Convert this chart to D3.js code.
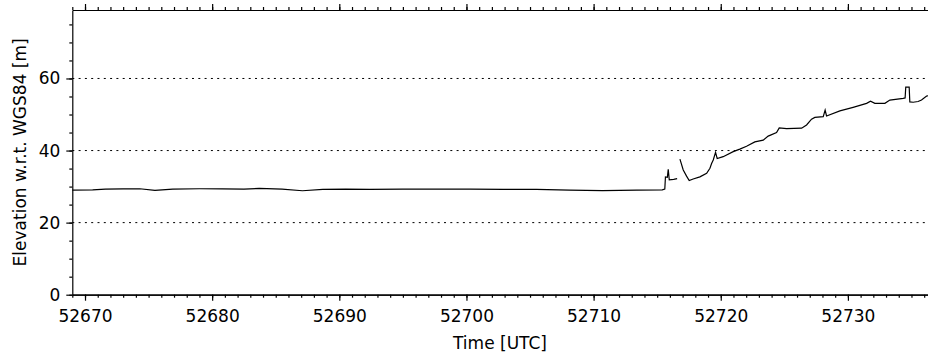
<!DOCTYPE html>
<meta charset="utf-8">
<script src="https://cdn.jsdelivr.net/npm/d3@7"></script>
<style>
    body { margin: 0; background: #fff; }
    text { font-family: "DejaVu Sans", sans-serif; fill: #000; }
    .axis text { font-size: 17px; }
    .axis path, .axis line { stroke: #000; stroke-width: 1.2px; }
    .grid { stroke: #000; stroke-width: 1px; stroke-dasharray: 2,4.3; }
    .line { fill: none; stroke: #000; stroke-width: 1.2px; }
</style>
<div id="viz"></div>
<script>
// time (MJD) and elevation (m), null marks the data gap
var times = [
    52669.0, 52670.6, 52671.6, 52673.0, 52674.3, 52675.5, 52676.9, 52679.0,
    52680.8, 52682.5, 52683.7, 52685.5, 52687.1, 52688.7, 52690.5, 52692.4,
    52695.0, 52697.7, 52700.3, 52702.9, 52705.5, 52708.1, 52710.7, 52713.4,
    52715.4, 52715.6, 52715.65, 52715.8, 52715.87, 52715.95, 52716.3, 52716.57,
    52716.68,
    52716.79, 52717.05, 52717.31, 52717.52, 52717.83, 52718.36, 52718.89, 52719.15,
    52719.28, 52719.41, 52719.59, 52719.72, 52720.19, 52720.98, 52721.5, 52722.03,
    52722.68, 52723.34, 52723.73, 52724.39, 52724.6, 52725.18, 52726.36, 52726.75,
    52727.14, 52727.4, 52728.06, 52728.21, 52728.32, 52729.37, 52730.41, 52731.47,
    52731.78, 52732.12, 52732.91, 52733.3, 52734.35, 52734.5, 52734.55, 52734.82,
    52734.87, 52735.13, 52735.52, 52735.79, 52736.19, 52736.4
];
var elevation = [
    29.0, 29.1, 29.3, 29.35, 29.4, 28.95, 29.3, 29.4,
    29.35, 29.3, 29.5, 29.3, 28.85, 29.2, 29.3, 29.25,
    29.3, 29.3, 29.3, 29.2, 29.2, 29.0, 28.9, 29.0,
    29.1, 29.3, 32.7, 32.6, 34.8, 31.9, 32.0, 32.2,
    null,
    37.6, 34.6, 32.9, 31.7, 32.1, 32.7, 33.7, 35.1,
    36.4, 37.4, 39.5, 37.8, 38.3, 39.7, 40.4, 41.2,
    42.4, 42.9, 44.0, 45.0, 46.3, 46.1, 46.2, 47.1,
    48.7, 49.2, 49.4, 51.2, 49.6, 51.0, 52.0, 53.1,
    53.7, 53.1, 53.1, 54.0, 54.5, 54.6, 57.6, 57.6,
    53.5, 53.4, 53.6, 54.0, 55.1, 55.3
];
var xMajor = [52670, 52680, 52690, 52700, 52710, 52720, 52730];
var xMinor = d3.range(52669, 52737, 1);
var yMajor = [0, 20, 40, 60];
var yMinor = d3.range(0, 80, 5);
var gridValues = [20, 40, 60];

var width = 928, height = 356;
var plot = {left: 72.3, right: 928, top: 10, bottom: 294.7};

var svg = d3.select('#viz')
    .append('svg')
        .attr('width', width)
        .attr('height', height);

var x = d3.scaleLinear()
    .domain([52669, 52736.3])
    .range([plot.left, plot.right]);

var y = d3.scaleLinear()
    .domain([0, 79])
    .range([plot.bottom, plot.top]);

// dotted grid lines
svg.append('g')
    .selectAll('line')
    .data(gridValues)
    .enter()
    .append('line')
    .attr('class', 'grid')
    .attr('x1', plot.left)
    .attr('x2', plot.right)
    .attr('y1', function(d) { return y(d); })
    .attr('y2', function(d) { return y(d); });

// bottom axis: minor ticks, then majors with labels
svg.append('g')
    .attr('class', 'axis')
    .attr('transform', 'translate(0,' + plot.bottom + ')')
    .call(d3.axisBottom(x).tickValues(xMinor).tickSize(3).tickSizeOuter(0).tickFormat(''));
svg.append('g')
    .attr('class', 'axis')
    .attr('transform', 'translate(0,' + plot.bottom + ')')
    .call(d3.axisBottom(x).tickValues(xMajor).tickSize(6).tickSizeOuter(0).tickPadding(9)
        .tickFormat(d3.format('d')));

// top axis
svg.append('g')
    .attr('class', 'axis')
    .attr('transform', 'translate(0,' + plot.top + ')')
    .call(d3.axisTop(x).tickValues(xMinor).tickSize(3).tickSizeOuter(0).tickFormat(''));
svg.append('g')
    .attr('class', 'axis')
    .attr('transform', 'translate(0,' + plot.top + ')')
    .call(d3.axisTop(x).tickValues(xMajor).tickSize(6).tickSizeOuter(0).tickFormat(''))
    .select('.domain').remove();

// left axis
svg.append('g')
    .attr('class', 'axis')
    .attr('transform', 'translate(' + plot.left + ',0)')
    .call(d3.axisLeft(y).tickValues(yMinor).tickSize(3).tickSizeOuter(0).tickFormat(''));
svg.append('g')
    .attr('class', 'axis')
    .attr('transform', 'translate(' + plot.left + ',0)')
    .call(d3.axisLeft(y).tickValues(yMajor).tickSize(6).tickSizeOuter(0).tickPadding(6))
    .select('.domain').remove();

// elevation line
var data = times.map(function(t, i) { return {t: t, e: elevation[i]}; });
svg.append('path')
    .datum(data)
    .attr('class', 'line')
    .attr('d', d3.line()
        .defined(function(d) { return d.e !== null; })
        .x(function(d) { return x(d.t); })
        .y(function(d) { return y(d.e); }));

// axis titles
svg.append('text')
    .attr('transform', 'translate(26,' + ((plot.top + plot.bottom) / 2) + ')rotate(-90)')
    .style('font-size', '17px')
    .style('text-anchor', 'middle')
    .text('Elevation w.r.t. WGS84 [m]');

svg.append('text')
    .attr('x', 500)
    .attr('y', 349)
    .style('font-size', '17px')
    .style('text-anchor', 'middle')
    .text('Time [UTC]');
</script>
